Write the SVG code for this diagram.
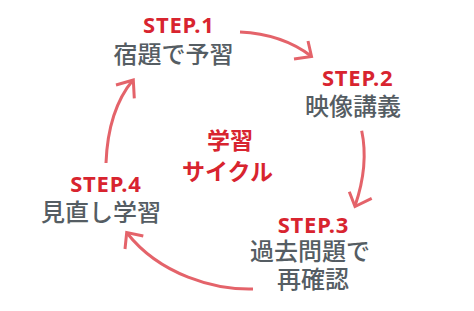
<svg xmlns="http://www.w3.org/2000/svg" width="474" height="311" viewBox="0 0 474 311">
<style>
.bg{fill:#ffffff}
.step{font-family:"Noto Sans","Noto Sans CJK JP",sans-serif;font-weight:700;font-size:22px;letter-spacing:0.8px;fill:#d8242f;text-anchor:middle}
.lbl{font-family:"Noto Sans CJK JP","Noto Sans",sans-serif;font-weight:500;font-size:24px;fill:#555d63;text-anchor:middle}
.ctr{font-family:"Noto Sans CJK JP","Noto Sans",sans-serif;font-weight:700;font-size:23px;fill:#d8242f;text-anchor:middle}
.arc{fill:none;stroke:#e4636a;stroke-width:3;stroke-linecap:butt;stroke-linejoin:miter}
</style>
<rect class="bg" x="0" y="0" width="474" height="311"/>
<g id="connectors">
<path class="arc" d="M240,32 Q282,34 311,56"/>
<polyline class="arc" points="308,41 311.5,56.5 294,59"/>
<path class="arc" d="M361.7,130.7 Q369,165 355,206"/>
<polyline class="arc" points="349.3,191.7 355,206.5 371.7,198.3"/>
<path class="arc" d="M253,289 C215,290 160,275 127,233"/>
<polyline class="arc" points="125,249 126.7,232.5 143.3,236"/>
<path class="arc" d="M106,163 Q108,110 133,80"/>
<polyline class="arc" points="116,85 133.3,80 134.3,98.3"/>
</g>
<g id="step1">
<text class="step" x="178.8" y="33.3">STEP.1</text>
<text class="lbl" x="173.5" y="63">宿題で予習</text>
</g>
<g id="step2">
<text class="step" x="357.7" y="86">STEP.2</text>
<text class="lbl" x="353" y="114.5">映像講義</text>
</g>
<g id="step3">
<text class="step" x="313.4" y="233.3">STEP.3</text>
<text class="lbl" x="310" y="259.5">過去問題で</text>
<text class="lbl" x="313" y="287.8">再確認</text>
</g>
<g id="step4">
<text class="step" x="105.9" y="191.7">STEP.4</text>
<text class="lbl" x="101" y="221">見直し学習</text>
</g>
<g id="center">
<text class="ctr" x="230" y="148.5">学習</text>
<text class="ctr" x="227.5" y="179.5">サイクル</text>
</g>
</svg>
